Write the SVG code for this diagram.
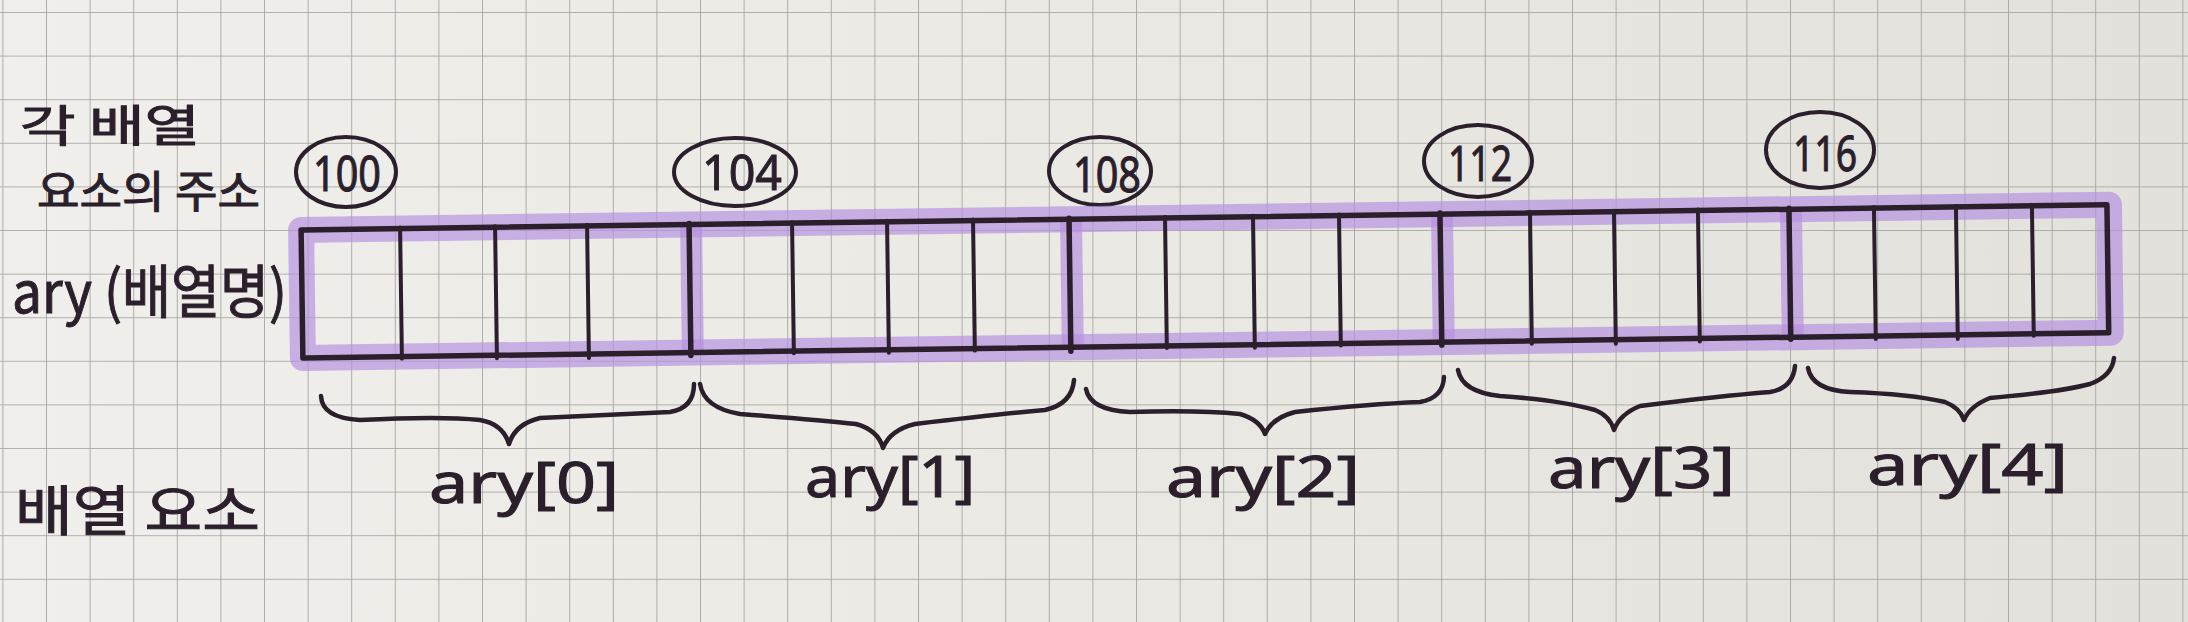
<svg xmlns="http://www.w3.org/2000/svg" width="2188" height="622" viewBox="0 0 2188 622">
  <defs>
    <linearGradient id="paper" x1="0" y1="0" x2="1" y2="0">
      <stop offset="0" stop-color="#f0efeb"/>
      <stop offset="0.5" stop-color="#eae9e4"/>
      <stop offset="1" stop-color="#e2e1dc"/>
    </linearGradient>
    <pattern id="grid" patternUnits="userSpaceOnUse" x="46" y="12" width="43.6" height="43.6">
      <path d="M0 0 V43.6 M0 0 H43.6" fill="none" stroke="#9e9d99" stroke-width="1.6"/>
    </pattern>
    <style>
      .ink { fill: none; stroke: #2a1f2b; stroke-linecap: round; stroke-linejoin: round; }
      .outline { stroke-width: 5.5; }
      .cell { stroke-width: 4; }
      .brace { stroke-width: 4.5; }
      .addr { stroke-width: 4; }
      .hl { fill: none; stroke: #b690e0; stroke-opacity: 0.68; stroke-width: 26; stroke-linejoin: round; }
      .hlv { fill: none; stroke: #b690e0; stroke-opacity: 0.68; stroke-width: 22; }
      .ko { font-family: "Noto Sans CJK KR", "Noto Sans", sans-serif; fill: #2a1f2b; stroke: #2a1f2b; stroke-width: 1; }
      .lat { font-family: "Noto Sans", "DejaVu Sans", sans-serif; fill: #2a1f2b; stroke: #2a1f2b; stroke-width: 1; }
      .num { font-family: "Noto Sans", "DejaVu Sans", sans-serif; fill: #2a1f2b; stroke: #2a1f2b; stroke-width: 1; font-size: 50px; text-anchor: middle; }
    </style>
  </defs>

  <rect x="0" y="0" width="2188" height="622" fill="url(#paper)"/>
  <rect x="0" y="0" width="2188" height="622" fill="url(#grid)"/>

  <!-- left labels -->
  <g id="label-address">
    <text class="ko" x="20" y="142" font-size="44" textLength="180" lengthAdjust="spacingAndGlyphs">각 배열</text>
    <text class="ko" x="37" y="208" font-size="44" textLength="223" lengthAdjust="spacingAndGlyphs">요소의 주소</text>
  </g>
  <g id="label-name">
    <text class="ko" x="12" y="313" font-size="58" textLength="275" lengthAdjust="spacingAndGlyphs">ary (배열명)</text>
  </g>
  <g id="label-elements">
    <text class="ko" x="15" y="531" font-size="54" textLength="245" lengthAdjust="spacingAndGlyphs">배열 요소</text>
  </g>

  <!-- address circles -->
  <g id="addr-100">
    <ellipse class="ink addr" cx="346" cy="172" rx="50" ry="35"/>
    <text class="num" x="347" y="191" textLength="68" lengthAdjust="spacingAndGlyphs">100</text>
  </g>
  <g id="addr-104">
    <ellipse class="ink addr" cx="735" cy="172" rx="61" ry="34"/>
    <text class="num" x="742" y="190" textLength="80" lengthAdjust="spacingAndGlyphs">104</text>
  </g>
  <g id="addr-108">
    <ellipse class="ink addr" cx="1100" cy="171" rx="51" ry="34"/>
    <text class="num" x="1107" y="192" textLength="68" lengthAdjust="spacingAndGlyphs">108</text>
  </g>
  <g id="addr-112">
    <ellipse class="ink addr" cx="1478" cy="161" rx="54" ry="36"/>
    <text class="num" x="1480" y="181" textLength="64" lengthAdjust="spacingAndGlyphs">112</text>
  </g>
  <g id="addr-116">
    <ellipse class="ink addr" cx="1820" cy="150" rx="54" ry="38"/>
    <text class="num" x="1825" y="171" textLength="64" lengthAdjust="spacingAndGlyphs">116</text>
  </g>

  <!-- array box -->
  <g id="array" transform="rotate(-0.8 302 294)">
    <g id="highlight">
      <rect class="hl" x="302" y="230" width="1808" height="128"/>
      <line class="hlv" x1="692" y1="230" x2="692" y2="358"/>
      <line class="hlv" x1="1072" y1="230" x2="1072" y2="358"/>
      <line class="hlv" x1="1443" y1="230" x2="1443" y2="358"/>
      <line class="hlv" x1="1792" y1="230" x2="1792" y2="358"/>
    </g>
    <g id="cells">
      <rect class="ink outline" x="302" y="230" width="1806" height="128"/>
      <path class="ink cell" d="M401 229 V360 M496 229 V361 M588 229 V362 M793 229 V360 M888 229 V361 M974 229 V360 M1166 229 V360 M1254 229 V361 M1340 229 V360 M1531 229 V361 M1615 229 V362 M1699 229 V361 M1875 229 V361 M1957 229 V362 M2033 229 V360"/>
      <path class="ink outline" d="M690 229 V361 M1070 229 V362 M1441 229 V361 M1790 229 V360"/>
    </g>
  </g>

  <!-- braces -->
  <g id="connectors">
    <path class="ink brace" d="M321 396 Q322 418 360 420 Q440 416 480 420 Q503 424 509 444 Q515 424 540 418 Q630 414 670 412 Q694 408 694 384"/>
    <path class="ink brace" d="M700 384 Q704 408 740 414 Q820 420 856 424 Q878 430 883 448 Q890 430 915 424 Q1000 414 1045 410 Q1072 404 1074 380"/>
    <path class="ink brace" d="M1086 389 Q1090 410 1130 412 Q1200 410 1240 414 Q1260 420 1265 434 Q1272 418 1295 412 Q1370 404 1420 402 Q1443 398 1444 377"/>
    <path class="ink brace" d="M1458 370 Q1462 392 1500 396 Q1560 400 1595 410 Q1610 416 1614 430 Q1620 414 1640 406 Q1720 396 1770 392 Q1793 388 1795 366"/>
    <path class="ink brace" d="M1808 368 Q1812 390 1850 392 Q1910 394 1945 402 Q1960 408 1964 420 Q1970 406 1990 398 Q2060 392 2090 384 Q2112 376 2114 358"/>
  </g>

  <!-- element labels -->
  <g id="elem-0"><text class="lat" x="429" y="503" font-size="56" textLength="190" lengthAdjust="spacingAndGlyphs">ary[0]</text></g>
  <g id="elem-1"><text class="lat" x="805" y="497" font-size="56" textLength="170" lengthAdjust="spacingAndGlyphs">ary[1]</text></g>
  <g id="elem-2"><text class="lat" x="1166" y="497" font-size="56" textLength="194" lengthAdjust="spacingAndGlyphs">ary[2]</text></g>
  <g id="elem-3"><text class="lat" x="1548" y="488" font-size="56" textLength="187" lengthAdjust="spacingAndGlyphs">ary[3]</text></g>
  <g id="elem-4"><text class="lat" x="1867" y="485" font-size="56" textLength="201" lengthAdjust="spacingAndGlyphs">ary[4]</text></g>
</svg>
